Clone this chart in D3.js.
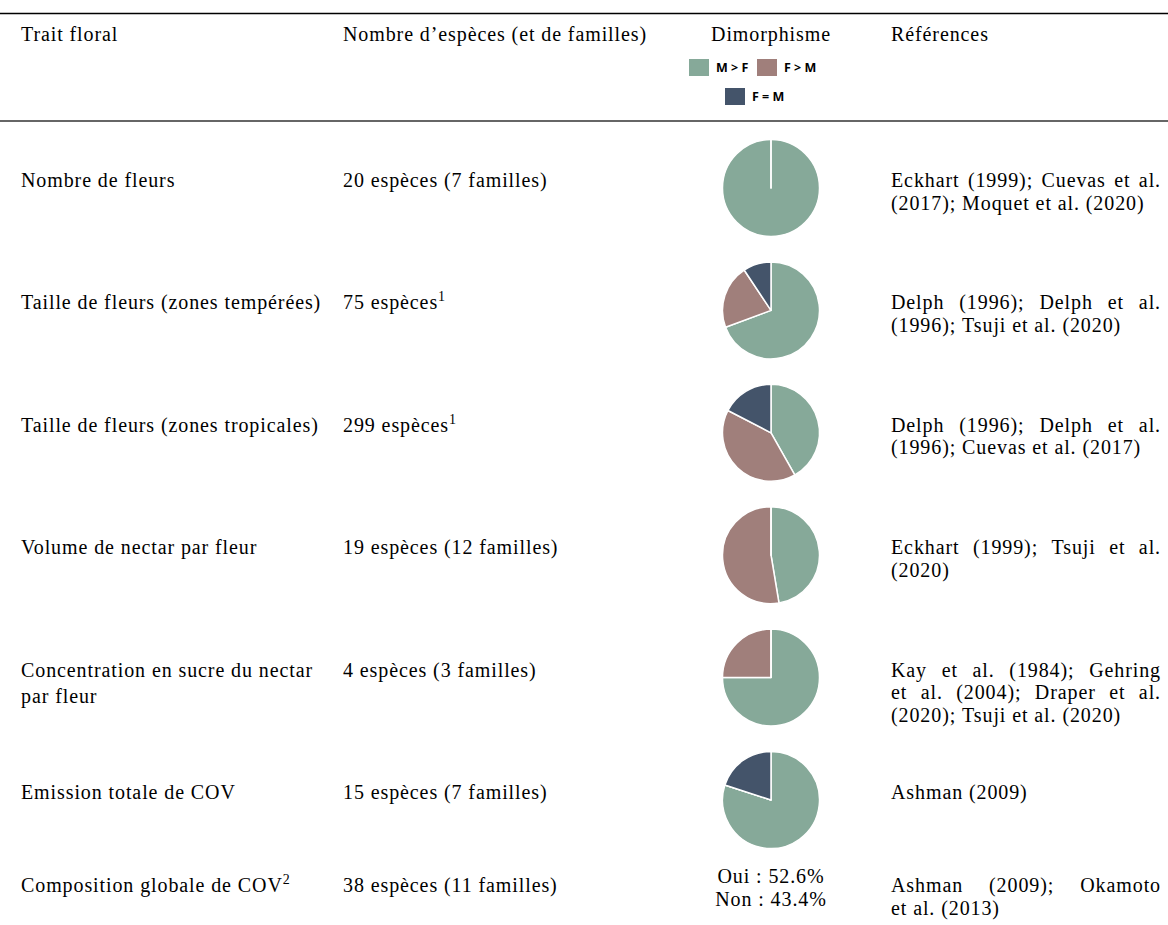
<!DOCTYPE html>
<html>
<head>
<meta charset="utf-8">
<script src="https://cdn.jsdelivr.net/npm/d3@7"></script>
<style>
  html, body { margin: 0; padding: 0; background: #fff; }
  svg { display: block; }
</style>
</head>
<body>
<svg id="chart" width="1168" height="925"></svg>
<script>
// ---------------- DATA ----------------
const headers = ["Trait floral", "Nombre d\u2019esp\u00e8ces (et de familles)", "Dimorphisme", "R\u00e9f\u00e9rences"];
const categories = ["M > F", "F > M", "F = M"];
const colors = ["#86a999", "#a07f7b", "#44546a"];

const traitLines = [
  ["Nombre de fleurs"],
  ["Taille de fleurs (zones temp\u00e9r\u00e9es)"],
  ["Taille de fleurs (zones tropicales)"],
  ["Volume de nectar par fleur"],
  ["Concentration en sucre du nectar", "par fleur"],
  ["Emission totale de COV"],
  ["Composition globale de COV"]
];
const traitSup = ["", "", "", "", "", "", "2"];

const speciesText = [
  "20 esp\u00e8ces (7 familles)",
  "75 esp\u00e8ces",
  "299 esp\u00e8ces",
  "19 esp\u00e8ces (12 familles)",
  "4 esp\u00e8ces (3 familles)",
  "15 esp\u00e8ces (7 familles)",
  "38 esp\u00e8ces (11 familles)"
];
const speciesSup = ["", "1", "1", "", "", "", ""];

// species counts per dimorphism category (rows 1-6)
const mGreaterF = [20, 52, 125, 9, 3, 12];
const fGreaterM = [0, 16, 122, 10, 1, 0];
const fEqualM   = [0, 7, 52, 0, 0, 3];

const lastRowDimorph = ["Oui : 52.6%", "Non : 43.4%"];

const referenceLines = [
  ["Eckhart (1999); Cuevas et al.", "(2017); Moquet et al. (2020)"],
  ["Delph (1996); Delph et al.", "(1996); Tsuji et al. (2020)"],
  ["Delph (1996); Delph et al.", "(1996); Cuevas et al. (2017)"],
  ["Eckhart (1999); Tsuji et al.", "(2020)"],
  ["Kay et al. (1984); Gehring", "et al. (2004); Draper et al.", "(2020); Tsuji et al. (2020)"],
  ["Ashman (2009)"],
  ["Ashman (2009); Okamoto", "et al. (2013)"]
];

// ---------------- LAYOUT ----------------
const W = 1168, H = 925;
const serif = "'Liberation Serif', 'Times New Roman', serif";
const fs = 20;
const ls = 0.9;
const lineH = 22.5;
const col = { trait: 21, species: 343, dimorph: 771, refs: 891, refsEnd: 1161 };

const svg = d3.select("#chart");

// rules
svg.append("line").attr("x1", 0).attr("x2", W).attr("y1", 13.5).attr("y2", 13.5)
  .attr("stroke", "#000").attr("stroke-width", 1.4);
svg.append("line").attr("x1", 0).attr("x2", W).attr("y1", 121).attr("y2", 121)
  .attr("stroke", "#666").attr("stroke-width", 2);

function serifText(g, x, y, txt, anchor) {
  return g.append("text").attr("x", x).attr("y", y)
    .attr("font-family", serif).attr("font-size", fs)
    .attr("letter-spacing", ls)
    .attr("text-anchor", anchor || "start")
    .attr("fill", "#000").text(txt);
}

// header
const hy = 41;
serifText(svg, col.trait, hy, headers[0]);
serifText(svg, col.species, hy, headers[1]);
serifText(svg, col.dimorph, hy, headers[2], "middle");
serifText(svg, col.refs, hy, headers[3]);

// legend
const legendPos = [[689, 59], [757, 59], [725, 88]];
const legend = svg.append("g");
categories.forEach((c, i) => {
  const [lx, ly] = legendPos[i];
  legend.append("rect").attr("x", lx).attr("y", ly).attr("width", 20).attr("height", 17)
    .attr("fill", colors[i]);
  legend.append("text").attr("x", lx + 27).attr("y", ly + 13)
    .attr("font-family", "'Open Sans', sans-serif").attr("font-weight", 700)
    .attr("font-size", 12.5).attr("fill", "#000").text(c);
});

// rows
const rowScale = d3.scaleLinear().domain([0, 5]).range([188, 800]);
const textY = i => (i < 6 ? rowScale(i) - 1 : 892);

function withSup(t, sup) {
  if (sup) {
    t.append("tspan").attr("dy", -8).attr("font-size", 14).text(sup);
  }
}

traitLines.forEach((lines, i) => {
  lines.forEach((ln, j) => {
    const t = serifText(svg, col.trait, textY(i) + j * 26.5, ln);
    if (j === lines.length - 1) withSup(t, traitSup[i]);
  });
  const s = serifText(svg, col.species, textY(i), speciesText[i]);
  withSup(s, speciesSup[i]);
});

// references, justified
function justifyLine(y, line, justify) {
  const words = line.split(" ");
  const g = svg.append("g");
  const nodes = words.map(w => serifText(g, 0, y, w));
  const widths = nodes.map(n => n.node().getComputedTextLength());
  const spaceW = fs * 0.25 + ls;
  const total = d3.sum(widths);
  const gap = justify && words.length > 1
    ? (col.refsEnd - col.refs - total) / (words.length - 1)
    : spaceW;
  let x = col.refs;
  nodes.forEach((n, k) => { n.attr("x", x); x += widths[k] + gap; });
}
referenceLines.forEach((lines, i) => {
  lines.forEach((ln, j) => {
    justifyLine(textY(i) + j * lineH, ln, j < lines.length - 1);
  });
});

// pies
const pie = d3.pie().sort(null).value(d => d);
const arc = d3.arc().innerRadius(0).outerRadius(48.5);
mGreaterF.forEach((m, i) => {
  const vals = [m, fGreaterM[i], fEqualM[i]];
  const g = svg.append("g").attr("transform", `translate(${col.dimorph},${rowScale(i)})`);
  g.selectAll("path").data(pie(vals)).join("path")
    .attr("d", arc)
    .attr("fill", (d, k) => colors[k])
    .attr("stroke", "#fff").attr("stroke-width", 1.5).attr("stroke-linejoin", "round");
});

// last row dimorphism text
lastRowDimorph.forEach((t, j) => {
  serifText(svg, col.dimorph, 883 + j * lineH, t, "middle");
});
</script>
</body>
</html>
